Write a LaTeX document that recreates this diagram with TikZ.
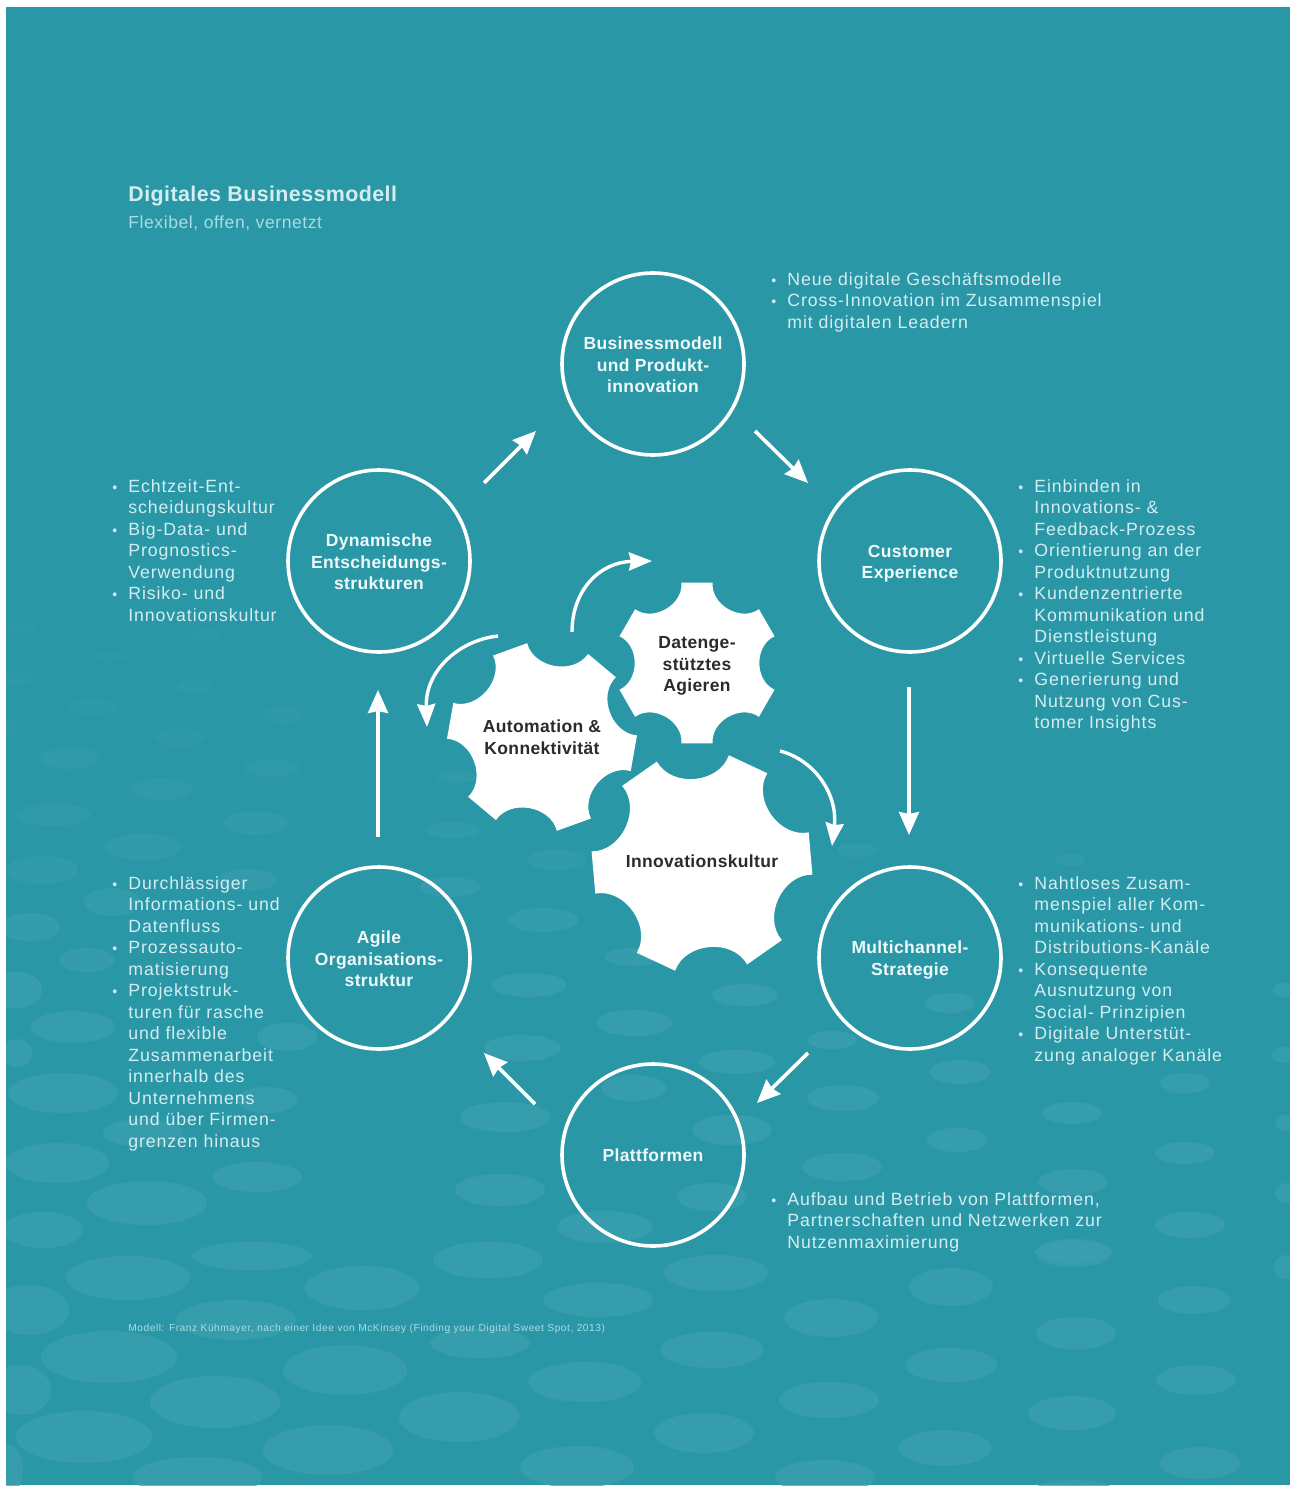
\documentclass[tikz,border=0pt]{standalone}
\usepackage{fontspec}
\usetikzlibrary{arrows.meta}
\setmainfont[LetterSpace=5.1]{Liberation Sans}
\newfontfamily\lblfont[LetterSpace=2,BoldFont={Liberation Sans Bold}]{Liberation Sans}
\newfontfamily\subfont[LetterSpace=3.4]{Liberation Sans}
\definecolor{teal0}{HTML}{2A97A7}
\definecolor{blobc}{HTML}{3BA0AF}
\definecolor{bodytxt}{HTML}{D3EDF1}
\definecolor{subtxt}{HTML}{A9DBE3}
\definecolor{lbltxt}{HTML}{EEF9FA}
\definecolor{geartxt}{HTML}{2B2B2F}
\newcommand{\bl}{\makebox[0pt][r]{\scalebox{.8}{\textbullet}\hspace{5.5pt}}}
\newcommand{\gearshape}[4]{%
  \begin{scope}[shift={(#1,#2)}]
    \fill[white] ({#4-19}:#3pt)
    \foreach \k in {0,...,5}{
      .. controls ({#4+60*\k-17}:{.73*#3 pt}) and ({#4+60*\k+17}:{.73*#3 pt}) .. ({#4+60*\k+19}:#3 pt)
      -- ({#4+60*(\k+1)-19}:#3 pt)
    } -- cycle;
  \end{scope}}
\tikzset{
  x=0.5pt,y=-0.5pt,
  ring/.style={circle,draw=white,line width=1.8pt,minimum size=91pt,inner sep=0pt,outer sep=0pt,
    text=lbltxt,align=center,font=\lblfont\fontsize{8.75}{10.75}\selectfont\bfseries},
  geartext/.style={inner sep=0pt,text=geartxt,align=center,font=\lblfont\fontsize{8.75}{10.75}\selectfont\bfseries},
  body/.style={anchor=north west,inner sep=0pt,text=bodytxt,align=left,font=\fontsize{8.85}{10.75}\selectfont},
  flow/.style={draw=white,line width=1.8pt,-{Stealth[length=11.5pt,width=10pt,inset=1pt]}},
  swing/.style={draw=white,line width=1.7pt,-{Stealth[length=11.5pt,width=9pt,inset=1pt]}}
}
\begin{document}
\begin{tikzpicture}
\useasboundingbox (0,0) rectangle (1290,1486);
\fill[white] (0,0) rectangle (1290,1486);
\fill[teal0] (6,7) rectangle (1290,1485);
\begin{scope}
\clip (6,7) rectangle (1290,1485);
\foreach \x/\y/\a/\b in {
 128/1278/62/22, 362/1288/57/22, 488/1260/55/18, 252/1256/60/14, 598/1300/55/17, 29/1310/40/25,
 236/1320/60/20, 109/1357/68/26, 345/1370/62/25, 480/1343/50/15, 585/1382/57/20, 21/1390/30/25,
 215/1402/65/26, 459/1417/60/25, 84/1437/68/26, 328/1450/65/25, 577/1467/57/21, 198/1477/65/20, 8/1470/15/25,
 716/1273/52/18, 831/1318/47/19, 951/1287/42/19, 1074/1253/38/14, 1194/1300/36/14, 712/1350/52/18,
 829/1400/50/18, 951/1365/46/17, 1076/1333/40/16, 1196/1380/40/15, 704/1433/50/20, 945/1448/46/18,
 1072/1413/44/17, 1200/1463/40/16, 825/1477/50/17, 1074/1490/40/10, 1286/1267/12/12,
 23/628/15/6, 110/657/18/5, 207/635/15/6, 18/678/14/7, 195/686/18/7, 93/707/25/8, 282/715/20/9,
 180/737/25/9, 10/728/8/8, 70/758/30/11, 272/768/27/9, 162/789/30/11, 53/815/38/11, 255/823/32/12,
 143/847/38/13, 42/870/36/14, 112/902/28/14, 247/880/30/11, 30/927/30/14,
 73/1027/42/16, 63/1093/55/20, 57/1163/52/20, 147/1203/60/22, 43/1230/40/18, 17/990/25/18, 87/960/28/12,
 17/1053/15/14, 257/1177/45/15, 143/1133/40/14, 267/1100/30/13, 287/1037/30/14,
 529/985/38/12, 745/995/33/11, 634/1023/38/13, 522/1048/38/13, 737/1062/38/12, 634/1088/33/13,
 843/1098/36/13, 960/1072/30/12, 505/1117/45/15, 732/1130/40/15, 842/1167/40/14, 957/1140/30/12,
 500/1190/45/16, 712/1197/35/14, 605/1227/48/16, 832/1040/25/9, 950/1003/25/10,
 1072/1113/30/11, 1185/1153/30/11, 1073/1182/35/13, 1190/1225/35/13, 1073/1252/38/10, 1185/1083/25/10,
 1283/990/10/7, 1283/1055/12/8, 1285/1123/10/8, 1287/1193/12/10,
 453/830/28/8, 557/860/30/10, 543/920/35/12, 457/777/20/6, 450/887/30/10, 633/957/28/9, 857/850/20/7, 1070/860/15/6
}{
  \pgfmathsetmacro\op{.72*min(1,max(.3,(\y-520)/480))}
  \fill[blobc,opacity=\op] (\x,\y) ellipse [x radius=\a, y radius=\b];
}
\end{scope}

% title
\node[anchor=base west,inner sep=0pt,text=bodytxt,font=\lblfont\fontsize{10.7}{13}\selectfont\bfseries] (title) at (128,202) {Digitales Businessmodell};
\node[anchor=base west,inner sep=0pt,text=subtxt,font=\subfont\fontsize{8.75}{10.75}\selectfont] (subtitle) at (128,229) {Flexibel, offen, vernetzt};

% rings
\node[ring] (biz) at (653,364) {\rule{0pt}{7.5pt}Businessmodell\\und Produkt-\\innovation};
\node[ring] (cust) at (910,561) {\rule{0pt}{9pt}Customer\\Experience};
\node[ring] (multi) at (910,958) {\rule{0pt}{8.5pt}Multichannel-\\Strategie};
\node[ring] (plat) at (653,1155) {Plattformen};
\node[ring] (agile) at (379,958) {\rule{0pt}{7.5pt}Agile\\Organisations-\\struktur};
\node[ring] (dyn) at (379,561) {\rule{0pt}{7.5pt}Dynamische\\Entscheidungs-\\strukturen};

% ring arrows
\coordinate (a1s) at (755,431); \coordinate (a1e) at (808,483);
\coordinate (a2s) at (909,687); \coordinate (a2e) at (909,835);
\coordinate (a3s) at (808,1053); \coordinate (a3e) at (757,1103);
\coordinate (a4s) at (535,1104); \coordinate (a4e) at (484,1053);
\coordinate (a5s) at (378,837); \coordinate (a5e) at (378,690);
\coordinate (a6s) at (484,483); \coordinate (a6e) at (536,431);
\draw[flow] (a1s) -- (a1e);
\draw[flow] (a2s) -- (a2e);
\draw[flow] (a3s) -- (a3e);
\draw[flow] (a4s) -- (a4e);
\draw[flow] (a5s) -- (a5e);
\draw[flow] (a6s) -- (a6e);

% gears
\gearshape{697}{663}{41}{0}
\gearshape{542}{737}{47.5}{20}
\gearshape{702}{863}{55.5}{35}
\node[geartext] (data) at (697,666) {Datenge-\\stütztes\\Agieren};
\node[geartext] (auto) at (542,737) {Automation \&\\Konnektivität};
\node[geartext] (inno) at (702,861) {Innovationskultur};

% curved arrows
\coordinate (c1s) at (572,632); \coordinate (c1e) at (652,561);
\coordinate (c2s) at (498,636); \coordinate (c2e) at (427,727);
\coordinate (c3s) at (780,751); \coordinate (c3e) at (832,846);
\draw[swing] (c1s) .. controls (572,590) and (600,562) .. (c1e);
\draw[swing] (c2s) .. controls (460,640) and (425,670) .. (c2e);
\draw[swing] (c3s) .. controls (815,760) and (838,795) .. (c3e);

% texts
\node[body] (t1) at (787,271) {\rule{0pt}{7pt}\bl Neue digitale Geschäftsmodelle\\
\bl Cross-Innovation im Zusammenspiel\\
mit digitalen Leadern};
\node[body] (t2) at (1034,478) {\rule{0pt}{7pt}\bl Einbinden in\\
Innovations- \&\\
Feedback-Prozess\\
\bl Orientierung an der\\
Produktnutzung\\
\bl Kundenzentrierte\\
Kommunikation und\\
Dienstleistung\\
\bl Virtuelle Services\\
\bl Generierung und\\
Nutzung von Cus-\\
tomer Insights};
\node[body] (t3) at (1034,875) {\rule{0pt}{7pt}\bl Nahtloses Zusam-\\
menspiel aller Kom-\\
munikations- und\\
Distributions-Kanäle\\
\bl Konsequente\\
Ausnutzung von\\
Social- Prinzipien\\
\bl Digitale Unterstüt-\\
zung analoger Kanäle};
\node[body] (t4) at (787,1191) {\rule{0pt}{7pt}\bl Aufbau und Betrieb von Plattformen,\\
Partnerschaften und Netzwerken zur\\
Nutzenmaximierung};
\node[body] (t5) at (128,478) {\rule{0pt}{7pt}\bl Echtzeit-Ent-\\
scheidungskultur\\
\bl Big-Data- und\\
Prognostics-\\
Verwendung\\
\bl Risiko- und\\
Innovationskultur};
\node[body] (t6) at (128,875) {\rule{0pt}{7pt}\bl Durchlässiger\\
Informations- und\\
Datenfluss\\
\bl Prozessauto-\\
matisierung\\
\bl Projektstruk-\\
turen für rasche\\
und flexible\\
Zusammenarbeit\\
innerhalb des\\
Unternehmens\\
und über Firmen-\\
grenzen hinaus};
\node[anchor=base west,inner sep=0pt,text=subtxt,font=\fontsize{5.12}{6}\selectfont] (src) at (128,1331) {Modell: Franz Kühmayer, nach einer Idee von McKinsey (Finding your Digital Sweet Spot, 2013)};
\end{tikzpicture}
\end{document}
